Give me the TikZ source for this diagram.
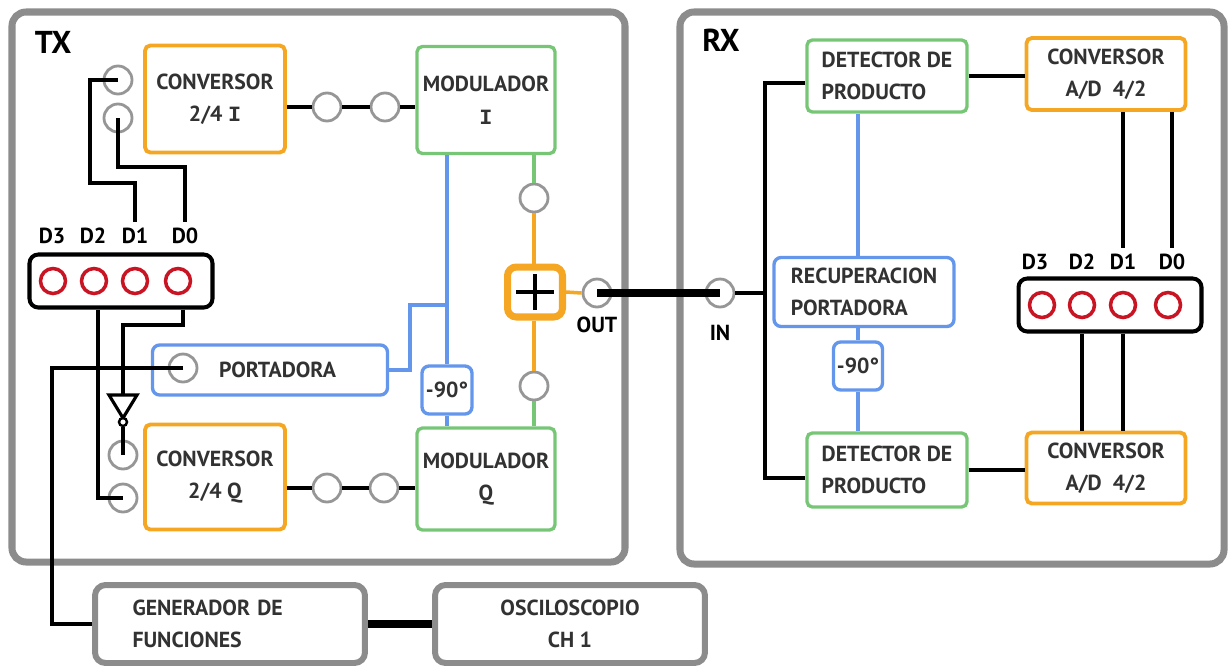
\documentclass[tikz,border=0pt]{standalone}
\usepackage{fontspec}
\setmainfont{PT Sans}
\newfontfamily\serifI{Liberation Mono}
\usepackage{tikz}
\usetikzlibrary{positioning, calc}
\definecolor{myorange}{RGB}{245,166,35}
\definecolor{mygreen}{RGB}{118,198,118}
\definecolor{myblue}{RGB}{100,150,235}
\definecolor{myframe}{RGB}{140,140,140}
\definecolor{myport}{RGB}{150,150,150}
\definecolor{myred}{RGB}{200,20,35}
\definecolor{mytext}{RGB}{50,50,50}
\tikzset{
  txt/.style={font=\fontsize{12.4}{18.5}\selectfont\bfseries, text=mytext},
  frame/.style={draw=myframe, line width=4pt, rounded corners=8pt},
  tag/.style={font=\fontsize{18}{18}\selectfont\bfseries},
  convbox/.style={rectangle, draw=myorange, line width=2.2pt,
    rounded corners=3pt, align=center, txt},
  modbox/.style={rectangle, draw=mygreen, line width=1.9pt,
    rounded corners=3pt, align=center, txt},
  carbox/.style={rectangle, draw=myblue, line width=1.9pt,
    rounded corners=4pt, align=center, txt},
  sumbox/.style={rectangle, draw=myorange, line width=4pt,
    rounded corners=5pt, minimum width=1.1cm, minimum height=1.0cm},
  pinbox/.style={rectangle, draw=black, line width=2.3pt,
    rounded corners=5pt, minimum width=3.66cm, minimum height=1.06cm},
  instr/.style={rectangle, draw=myframe, line width=3.4pt,
    rounded corners=6pt, minimum width=5.4cm, minimum height=1.56cm, txt},
  port/.style={circle, draw=myport, line width=1.6pt,
    minimum size=0.56cm, inner sep=0pt},
  pin/.style={circle, draw=myred, line width=2pt,
    minimum size=0.5cm, inner sep=0pt},
  bubble/.style={circle, draw=black, fill=white, line width=1.4pt,
    minimum size=0.16cm, inner sep=0pt},
  dlbl/.style={txt, text=black},
  wire/.style={line width=2.2pt, color=black},
  bigwire/.style={line width=4.6pt, color=black},
  carrier/.style={line width=2pt, color=myblue},
  sumline/.style={line width=2pt, color=myorange},
  modline/.style={line width=2pt, color=mygreen}
}

\begin{document}
\begin{tikzpicture}[x=0.02cm, y=-0.02cm]
  \useasboundingbox (0,0) rectangle (1229,667);

  % Transmitter
  \draw[frame] (12,12) rectangle (625,562);
  \node[tag] (txlbl) at (53,42) {TX};

  \node[convbox, minimum width=2.8cm, minimum height=2.14cm] (convI) at (215,99) {CONVERSOR\\2/4 {\serifI I}};
  \node[port] (cI1) at (118,80) {};
  \node[port] (cI2) at (118,118) {};
  \node[port] (oI1) at (327,107) {};
  \node[port] (oI2) at (385,107) {};
  \node[modbox, minimum width=2.76cm, minimum height=2.14cm] (modI) at (486,100) {MODULADOR\\{\serifI I}};

  \node[convbox, minimum width=2.8cm, minimum height=2.1cm] (convQ) at (215,477) {CONVERSOR\\2/4 Q};
  \node[port] (cQ1) at (123,455) {};
  \node[port] (cQ2) at (123,498) {};
  \node[port] (oQ1) at (327,488) {};
  \node[port] (oQ2) at (384,488) {};
  \node[modbox, minimum width=2.76cm, minimum height=2.04cm] (modQ) at (486,479) {MODULADOR\\Q};

  % Data inputs
  \node[pinbox] (pinsTX) at (121,281) {};
  \foreach \n/\cx/\lx in {3/53/52, 2/94/93, 1/135/135, 0/178/185} {
    \node[pin] (t\n) at (\cx,281) {};
    \node[dlbl] (tl\n) at (\lx,236) {D\n};
  }
  \draw[wire] (cI1.center) -- (90,80) |- (135,183) -- (tl1.north);
  \draw[wire] (cI2.center) |- (185,167) -- (tl0.north);
  \draw[wire] (pinsTX.south -| 98,0) |- (cQ2.center);
  \draw[wire] (pinsTX.south -| 183,0) |- (123,325) -- (123,395);

  % Inverter
  \draw[line width=1.8pt, fill=white] (109,395) -- (137,395) -- (123,418) -- cycle;
  \node[bubble] (bub) at (123,422) {};
  \draw[wire] (bub.south) -- (cQ1.center);

  % Converter to modulator
  \draw[wire] (convI.east |- oI1) -- (oI1.west);
  \draw[wire] (oI1.east) -- (oI2.west);
  \draw[wire] (oI2.east) -- (modI.west |- oI2);
  \draw[wire] (convQ.east |- oQ1) -- (oQ1.west);
  \draw[wire] (oQ1.east) -- (oQ2.west);
  \draw[wire] (oQ2.east) -- (modQ.west |- oQ2);

  % Carrier
  \node[carbox, minimum width=4.7cm, minimum height=1.0cm] (port) at (270,370) {\hspace*{0.3cm}PORTADORA};
  \node[port] (cP) at (183,368) {};
  \node[carbox, minimum width=1.0cm, minimum height=0.96cm, inner sep=1pt] (m90tx) at (447,390) {-90°};
  \draw[carrier] (port.east) -- (410,370) |- (447,305);
  \draw[carrier] (modI.south -| m90tx) -- (m90tx.north);
  \draw[carrier] (m90tx.south) -- (modQ.north -| m90tx);

  % Adder
  \node[port] (sI) at (534,198) {};
  \node[sumbox] (sum) at (535,292) {};
  \node[port] (sQ) at (534,386) {};
  \draw[line width=2.4pt] (sum.center) ++(-19,0) -- ++(38,0);
  \draw[line width=2.4pt] (sum.center) ++(0,-18) -- ++(0,36);
  \draw[modline] (modI.south -| sI) -- (sI.north);
  \draw[sumline] (sI.south) -- (sum.north -| sI);
  \draw[sumline] (sum.south -| sQ) -- (sQ.north);
  \draw[modline] (sQ.south) -- (modQ.north -| sQ);
  \node[port] (out) at (597,293) {};
  \node[dlbl] (outlbl) at (597,325) {OUT};
  \draw[sumline] (sum.east) -- (out.west);

  % Receiver
  \draw[frame] (680,12) rectangle (1224,564);
  \node[tag] (rxlbl) at (721,40) {RX};
  \node[port] (in) at (720,293) {};
  \node[dlbl] (inlbl) at (720,333) {IN};
  \draw[bigwire] (out.center) -- (in.center);

  \node[modbox, align=left, minimum width=3.2cm, minimum height=1.44cm] (det1) at (887,76) {DETECTOR DE\\PRODUCTO};
  \node[convbox, minimum width=3.18cm, minimum height=1.44cm] (ad1) at (1106,74) {CONVERSOR\\A/D~~4/2};
  \node[carbox, align=left, minimum width=3.6cm, minimum height=1.38cm] (rec) at (864,292) {RECUPERACION\\PORTADORA};
  \node[carbox, minimum width=0.98cm, minimum height=0.96cm, inner sep=1pt] (m90rx) at (858,366) {-90°};
  \node[modbox, align=left, minimum width=3.2cm, minimum height=1.48cm] (det2) at (887,470) {DETECTOR DE\\PRODUCTO};
  \node[convbox, minimum width=3.18cm, minimum height=1.42cm] (ad2) at (1106,468) {CONVERSOR\\A/D~~4/2};

  % Data outputs
  \node[pinbox] (pinsRX) at (1110,305) {};
  \foreach \n/\cx/\lx in {3/1042/1035, 2/1082/1082, 1/1123/1123, 0/1168/1172} {
    \node[pin] (r\n) at (\cx,305) {};
    \node[dlbl] (rl\n) at (\lx,262) {D\n};
  }
  \draw[wire] (ad1.south -| rl1) -- (rl1.north);
  \draw[wire] (ad1.south -| rl0) -- (rl0.north);
  \draw[wire] (pinsRX.south -| r2) -- (ad2.north -| r2);
  \draw[wire] (pinsRX.south -| r1) -- (ad2.north -| r1);

  \coordinate (jt) at (765,83);
  \coordinate (jb) at (765,478);
  \draw[wire] (in.east) -- (in -| jt);
  \draw[wire] (det1.west |- jt) -- (jt) -- (jb) -- (det2.west |- jb);
  \draw[wire] (det1.east) -- (ad1.west |- det1.east);
  \draw[wire] (det2.east) -- (ad2.west |- det2.east);
  \draw[carrier] (det1.south -| m90rx) -- (rec.north -| m90rx);
  \draw[carrier] (rec.south -| m90rx) -- (m90rx.north);
  \draw[carrier] (m90rx.south) -- (det2.north -| m90rx);

  % Instruments
  \node[instr, align=left, text width=3.9cm] (gen) at (230,624) {GENERADOR DE\\FUNCIONES};
  \node[instr, align=center] (osc) at (570,624) {OSCILOSCOPIO\\CH 1};
  \draw[wire] (cP.center) -- (52,368) |- (gen.west);
  \draw[bigwire] (gen.east) -- (osc.west);
\end{tikzpicture}
\end{document}
